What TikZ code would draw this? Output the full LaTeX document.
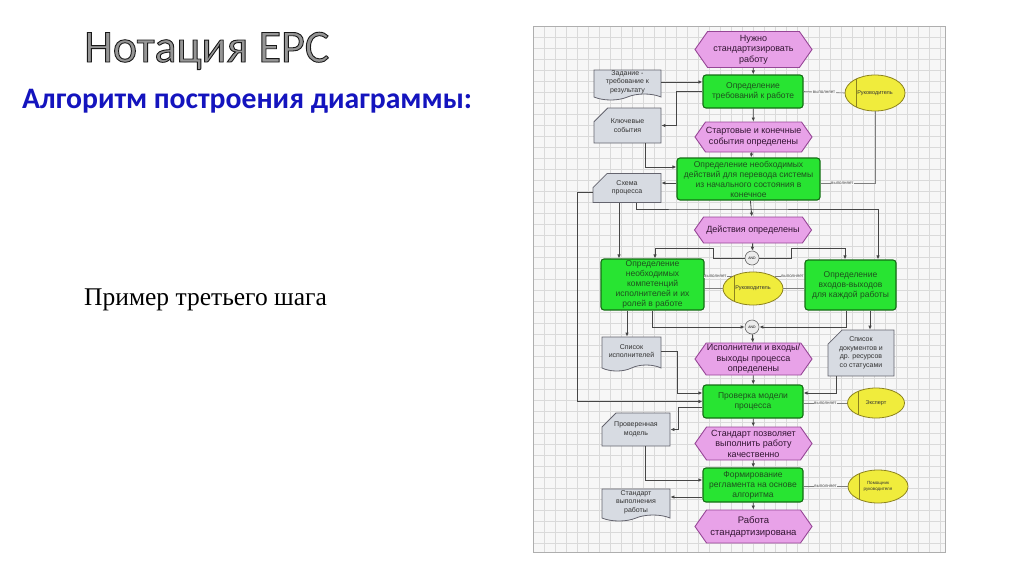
\documentclass[tikz,border=0pt]{standalone}
\usepackage{fontspec}
\setmainfont{Liberation Sans}
\newfontfamily\fcal{Carlito}
\newfontfamily\fser{Liberation Serif}
\usetikzlibrary{shapes.geometric,shapes.symbols,shapes.misc,arrows.meta}
\definecolor{evfill}{RGB}{232,162,232}
\definecolor{evdraw}{RGB}{150,70,150}
\definecolor{evtext}{RGB}{50,20,50}
\definecolor{fnfill}{RGB}{40,228,50}
\definecolor{fndraw}{RGB}{20,110,20}
\definecolor{fntext}{RGB}{30,80,30}
\definecolor{dcfill}{RGB}{215,219,226}
\definecolor{dcdraw}{RGB}{100,100,110}
\definecolor{dctext}{RGB}{50,50,50}
\definecolor{orfill}{RGB}{240,236,60}
\definecolor{ordraw}{RGB}{140,130,30}
\definecolor{gridc}{RGB}{218,218,218}
\definecolor{panelbg}{RGB}{247,247,247}
\definecolor{linec}{RGB}{70,70,70}
\definecolor{titleblue}{RGB}{20,20,190}
\definecolor{titlefill}{RGB}{150,150,150}
\tikzset{
 ev/.style={signal, signal to=east and west, signal pointer angle=110, draw=evdraw, fill=evfill, line width=0.9pt, minimum width=117pt, inner sep=0pt, align=center, font=\fontsize{9}{10.5}\selectfont, text=evtext},
 fn/.style={rectangle, rounded corners=3pt, draw=fndraw, fill=fnfill, line width=1.1pt, inner sep=0pt, align=center, font=\fontsize{8.5}{10}\selectfont, text=fntext},
 docw/.style={tape, tape bend top=none, tape bend height=6pt, draw=dcdraw, fill=dcfill, line width=0.8pt, inner sep=0pt, align=center, font=\fontsize{7}{8.5}\selectfont, text=dctext},
 card/.style={chamfered rectangle, chamfered rectangle corners=north west, chamfered rectangle xsep=7pt, chamfered rectangle ysep=7pt, draw=dcdraw, fill=dcfill, line width=0.8pt, inner sep=0pt, align=center, font=\fontsize{7}{8.5}\selectfont, text=dctext},
 org/.style={ellipse, draw=ordraw, fill=orfill, line width=0.8pt, inner sep=0pt, align=center, font=\fontsize{5.5}{6.5}\selectfont, text=black!80, path picture={\draw[ordraw, line width=0.6pt] ([xshift=11pt]path picture bounding box.north west) -- ([xshift=11pt]path picture bounding box.south west);}},
 andc/.style={circle, draw=black!60, fill=gray!15, line width=0.6pt, minimum size=14pt, inner sep=0pt, font=\fontsize{3.5}{4}\selectfont},
 conn/.style={draw=linec, line width=0.8pt, -{Latex[length=4pt,width=3.5pt]}},
 plainl/.style={draw=linec!70, line width=0.6pt},
 exec/.style={draw=linec!70, line width=0.6pt},
 lbl/.style={fill=panelbg, inner sep=0.5pt, font=\fontsize{4.5}{5}\selectfont, text=black!70},
 gridl/.style={draw=gridc, line width=0.4pt},
}
\begin{document}
\begin{tikzpicture}[x=1pt,y=-1pt]
\useasboundingbox (0,0) rectangle (1024,576);
\fill[white] (0,0) rectangle (1024,576);
% titles
\node[anchor=base west, inner sep=0pt, font=\fcal\fontsize{46}{46}\selectfont, text=titlefill] (title) at (84,62) {\special{pdf:literal direct 2 Tr 0.9 w 0.1 G}Нотация ЕРС\special{pdf:literal direct 0 Tr}};
\node[anchor=base west, inner sep=0pt, font=\fcal\bfseries\fontsize{29.7}{29.7}\selectfont, text=titleblue] (subtitle) at (22,108) {Алгоритм построения диаграммы:};
\node[anchor=base west, inner sep=0pt, font=\fser\fontsize{25.5}{25.5}\selectfont, text=black] (step) at (84,305.5) {Пример третьего шага};
% panel
\fill[panelbg] (533,26) rectangle (945,552);
\foreach \i in {0,...,37} \draw[gridl] ({533+\i*11},26) -- ({533+\i*11},552);
\foreach \j in {0,...,47} \draw[gridl] (533,{26+\j*11}) -- (945,{26+\j*11});
\draw[gridc!80!black, line width=0.5pt] (533,26) rectangle (945,552);
% nodes
\node[ev, minimum height=36pt] (e1) at (753.5,49.5) {Нужно\\стандартизировать\\работу};
\node[fn, minimum width=100pt, minimum height=33pt] (f1) at (753,91.5) {Определение\\требований к работе};
\node[docw, minimum width=67pt, minimum height=30pt] (d1) at (627.5,82) {Задание -\\требование к\\результату};
\node[card, minimum width=67pt, minimum height=35pt] (c1) at (627.5,125.5) {Ключевые\\события};
\node[org, minimum width=60pt, minimum height=36pt] (o1) at (875,93) {Руководитель};
\node[ev, minimum height=30pt] (e2) at (753.5,137) {Стартовые и конечные\\события определены};
\node[fn, minimum width=143pt, minimum height=42pt] (f2) at (748.5,179) {Определение необходимых\\действий для перевода системы\\из начального состояния в\\конечное};
\node[card, minimum width=68pt, minimum height=26pt] (c2) at (627,188) {Схема\\процесса};
\node[ev, minimum height=26pt] (e3) at (753,230) {Действия определены};
\node[andc] (a1) at (752,258) {AND};
\node[fn, minimum width=103pt, minimum height=51pt] (f3) at (652.5,284.5) {Определение\\необходимых\\компетенций\\исполнителей и их\\ролей в работе};
\node[fn, minimum width=91pt, minimum height=50pt] (f4) at (850.5,285) {Определение\\входов-выходов\\для каждой работы};
\node[org, minimum width=60pt, minimum height=33pt] (o2) at (753,288.5) {Руководитель};
\node[andc] (a2) at (752,327) {AND};
\node[docw, minimum width=59pt, minimum height=34pt] (d2) at (631.5,351) {Список\\исполнителей};
\node[card, minimum width=66pt, minimum height=38pt] (c3) at (861,353) {Список\\документов и\\др. ресурсов\\со статусами};
\node[ev, minimum height=32pt] (e4) at (753.5,359) {Исполнители и входы/\\выходы процесса\\определены};
\node[fn, minimum width=100pt, minimum height=33pt] (f5) at (753,401.5) {Проверка модели\\процесса};
\node[org, minimum width=57pt, minimum height=30pt] (o3) at (876,403) {Эксперт};
\node[card, minimum width=68pt, minimum height=33pt] (c4) at (636,429.5) {Проверенная\\модель};
\node[ev, minimum height=33pt] (e5) at (753.5,443.5) {Стандарт позволяет\\выполнить работу\\качественно};
\node[fn, minimum width=100pt, minimum height=34pt] (f6) at (753,485) {Формирование\\регламента на основе\\алгоритма};
\node[org, minimum width=60pt, minimum height=33pt, font=\fontsize{4.5}{5.5}\selectfont] (o4) at (878,486.5) {Помощник\\руководителя};
\node[docw, minimum width=68pt, minimum height=32pt] (d3) at (636,502) {Стандарт\\выполнения\\работы};
\node[ev, minimum height=33pt, font=\fontsize{9.5}{12}\selectfont] (e6) at (753.5,526.5) {Работа\\стандартизирована};
% connectors
\draw[conn] (e1) -- (f1);
\draw[conn] (d1.east) -- (d1.east -| f1.west);
\draw[conn] (f1.west) -- ++(-26,0) |- (c1.east);
\draw[exec] (f1.east) -- (o1.west) node[lbl, midway] {выполняет};
\draw[conn] (f1) -- (e2);
\draw[conn] (e2) -- (f2);
\draw[conn] ([xshift=17.5pt]c1.south) |- ([yshift=12pt]f2.west);
\draw[exec] (o1.south) |- ([yshift=-4pt]f2.east) node[lbl, pos=0.8] {выполняет};
\draw[conn] ([yshift=-4pt]f2.west) -- ([yshift=-4pt]f2.west -| c2.east);
\draw[conn] (f2) -- (e3);
\draw[conn] (e3) -- (a1);
\draw[conn] ([yshift=-4pt]c2.west) -- ++(-15,0) |- (f5.west);
\draw[conn] ([xshift=-8pt]c2.south) -- ([xshift=-8pt]c2.south |- f3.north);
\draw[conn] ([xshift=9pt]c2.south) |- (700,209) -| ([xshift=27.5pt]f4.north);
\draw[conn] (a1.west) -| (713,248) -| ([xshift=2.5pt]f3.north);
\draw[conn] (a1.east) -| (791,248) -| ([xshift=-5.5pt]f4.north);
\draw[exec] (o2.north west) -- (o2.north west -| f3.east) node[lbl, pos=0.6] {выполняет};
\draw[exec] (o2.north east) -- (o2.north east -| f4.west) node[lbl, pos=0.6] {выполняет};
\draw[plainl] (o2.west) -- (o2.west -| f3.east);
\draw[plainl] (o2.east) -- (o2.east -| f4.west);
\draw[conn] ([xshift=-25.5pt]f3.south) -- ([xshift=-25.5pt]f3.south |- d2.north);
\draw[conn] ([xshift=-0.5pt]f3.south) |- (a2.west);
\draw[conn] ([xshift=-4.5pt]f4.south) |- (a2.east);
\draw[conn] ([xshift=19.5pt]f4.south) -- ([xshift=19.5pt]f4.south |- c3.north);
\draw[conn] (a2) -- (e4);
\draw[conn] (e4) -- (f5);
\draw[conn] ([xshift=-25pt]c3.south) |- ([yshift=8.5pt]f5.east);
\draw[conn] (d2.east) -| (677,393) -- ([yshift=8.5pt]f5.west);
\draw[exec] (o3.west) -- (o3.west -| f5.east) node[lbl, midway] {выполняет};
\draw[conn] ([yshift=-5.5pt]f5.west) -| (678,429.5) -- (c4.east);
\draw[conn] (f5) -- (e5);
\draw[conn] (e5) -- (f6);
\draw[conn] ([xshift=9pt]c4.south) |- ([yshift=5pt]f6.west);
\draw[exec] (o4.west) -- (o4.west -| f6.east) node[lbl, midway] {выполняет};
\draw[conn] ([yshift=-12pt]f6.west) -- ([yshift=-12pt]f6.west -| d3.east);
\draw[conn] (f6) -- (e6);
\end{tikzpicture}
\end{document}
